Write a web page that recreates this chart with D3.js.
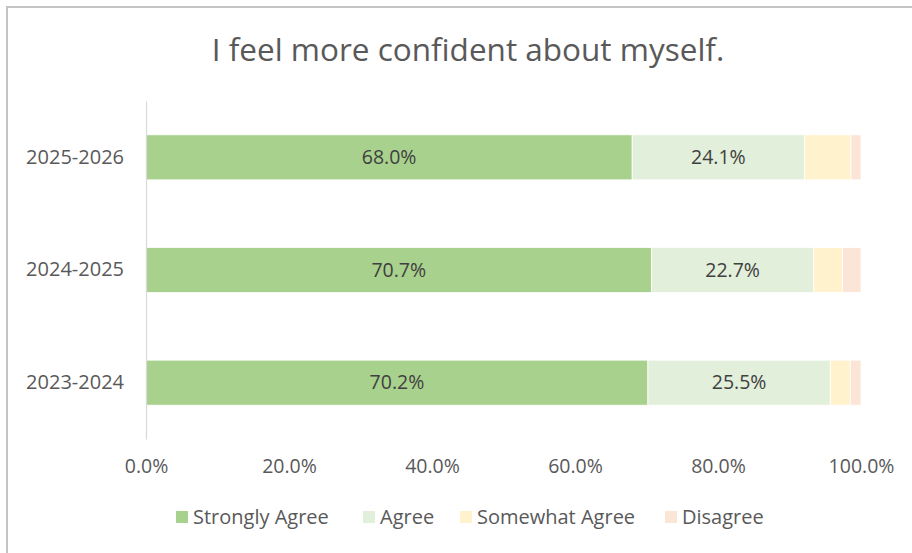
<!DOCTYPE html>
<html>
<head>
<meta charset="utf-8">
<script src="https://cdn.jsdelivr.net/npm/d3@7"></script>
<style>
  html, body { margin: 0; padding: 0; background: #fff; }
  svg text { font-family: "Open Sans", "Noto Sans", sans-serif; fill: #595959; }
</style>
</head>
<body>
<svg id="chart" width="912" height="553"></svg>
<script>
// Survey years, top to bottom
const years = ["2025-2026", "2024-2025", "2023-2024"];
// Response categories in stacking order
const responses = ["Strongly Agree", "Agree", "Somewhat Agree", "Disagree"];
// Share of responses (%) per year, same order as `years`
const stronglyAgree = [68.0, 70.7, 70.2];
const agree         = [24.1, 22.7, 25.5];
const somewhatAgree = [6.5, 4.0, 2.8];
const disagree      = [1.4, 2.6, 1.5];
// Horizontal axis ticks
const tickValues = [0, 20, 40, 60, 80, 100];
const colors = ["#a9d18e", "#e2efda", "#fff2cc", "#fbe5d6"];
const labelled = ["Strongly Agree", "Agree"];

const svg = d3.select("#chart");

// Frame around the chart area
svg.append("rect")
  .attr("x", 7).attr("y", 7).attr("width", 940).attr("height", 580)
  .attr("fill", "none").attr("stroke", "#c4c4c4").attr("stroke-width", 2);

svg.append("text")
  .attr("x", 468).attr("y", 61)
  .attr("text-anchor", "middle")
  .style("font-size", "31.5px")
  .text("I feel more confident about myself.");

const x = d3.scaleLinear().domain([0, 100]).range([146, 861]);
const y = d3.scaleBand().domain(years).range([101, 439])
  .paddingInner(0.6).paddingOuter(0.3);
const color = d3.scaleOrdinal().domain(responses).range(colors);

const rows = years.map((yr, i) => ({
  year: yr,
  "Strongly Agree": stronglyAgree[i],
  "Agree": agree[i],
  "Somewhat Agree": somewhatAgree[i],
  "Disagree": disagree[i]
}));
const stacked = d3.stack().keys(responses)(rows);

// Value axis tick labels (no line, no gridlines)
const xAxis = svg.append("g")
  .attr("transform", "translate(0,466)")
  .call(d3.axisBottom(x).tickValues(tickValues).tickSize(0).tickPadding(0)
    .tickFormat(d => d.toFixed(1) + "%"));
xAxis.select(".domain").remove();
xAxis.selectAll("text")
  .attr("dy", "0.35em")
  .attr("fill", "#595959")
  .style("font-size", "19.5px")
  .style("font-family", "'Open Sans', 'Noto Sans', sans-serif");

// Bars
const groups = svg.append("g").selectAll("g")
  .data(stacked).join("g")
  .attr("fill", d => color(d.key));

groups.selectAll("rect")
  .data(d => d.map(v => ({ key: d.key, v })))
  .join("rect")
  .attr("x", d => x(d.v[0]))
  .attr("y", d => y(d.v.data.year))
  .attr("width", d => x(d.v[1]) - x(d.v[0]))
  .attr("height", y.bandwidth())
  .attr("stroke", "#ffffff")
  .attr("stroke-width", 0.8);

// Category axis
const yAxis = svg.append("g")
  .attr("transform", "translate(146,0)")
  .call(d3.axisLeft(y).tickSize(0).tickPadding(22));
yAxis.select(".domain").attr("stroke", "#d9d9d9").attr("stroke-width", 1.2);
yAxis.selectAll("text")
  .attr("fill", "#595959")
  .style("font-size", "20px")
  .style("font-family", "'Open Sans', 'Noto Sans', sans-serif");

// Data labels for the two largest segments
groups.filter(d => labelled.includes(d.key))
  .selectAll("text")
  .data(d => d.map(v => ({ key: d.key, v })))
  .join("text")
  .attr("x", d => (x(d.v[0]) + x(d.v[1])) / 2)
  .attr("y", d => y(d.v.data.year) + y.bandwidth() / 2)
  .attr("dy", "0.35em")
  .attr("text-anchor", "middle")
  .style("fill", "#404040")
  .style("font-size", "19.5px")
  .text(d => d.v.data[d.key].toFixed(1) + "%");

// Legend
const legendX = [176, 363, 460, 665];
const legend = svg.append("g").selectAll("g")
  .data(responses).join("g")
  .attr("transform", (d, i) => `translate(${legendX[i]},517)`);
legend.append("rect")
  .attr("x", 0).attr("y", -6).attr("width", 12).attr("height", 12)
  .attr("fill", d => color(d));
legend.append("text")
  .attr("x", 17).attr("dy", "0.35em")
  .style("font-size", "20px")
  .text(d => d);
</script>
</body>
</html>
